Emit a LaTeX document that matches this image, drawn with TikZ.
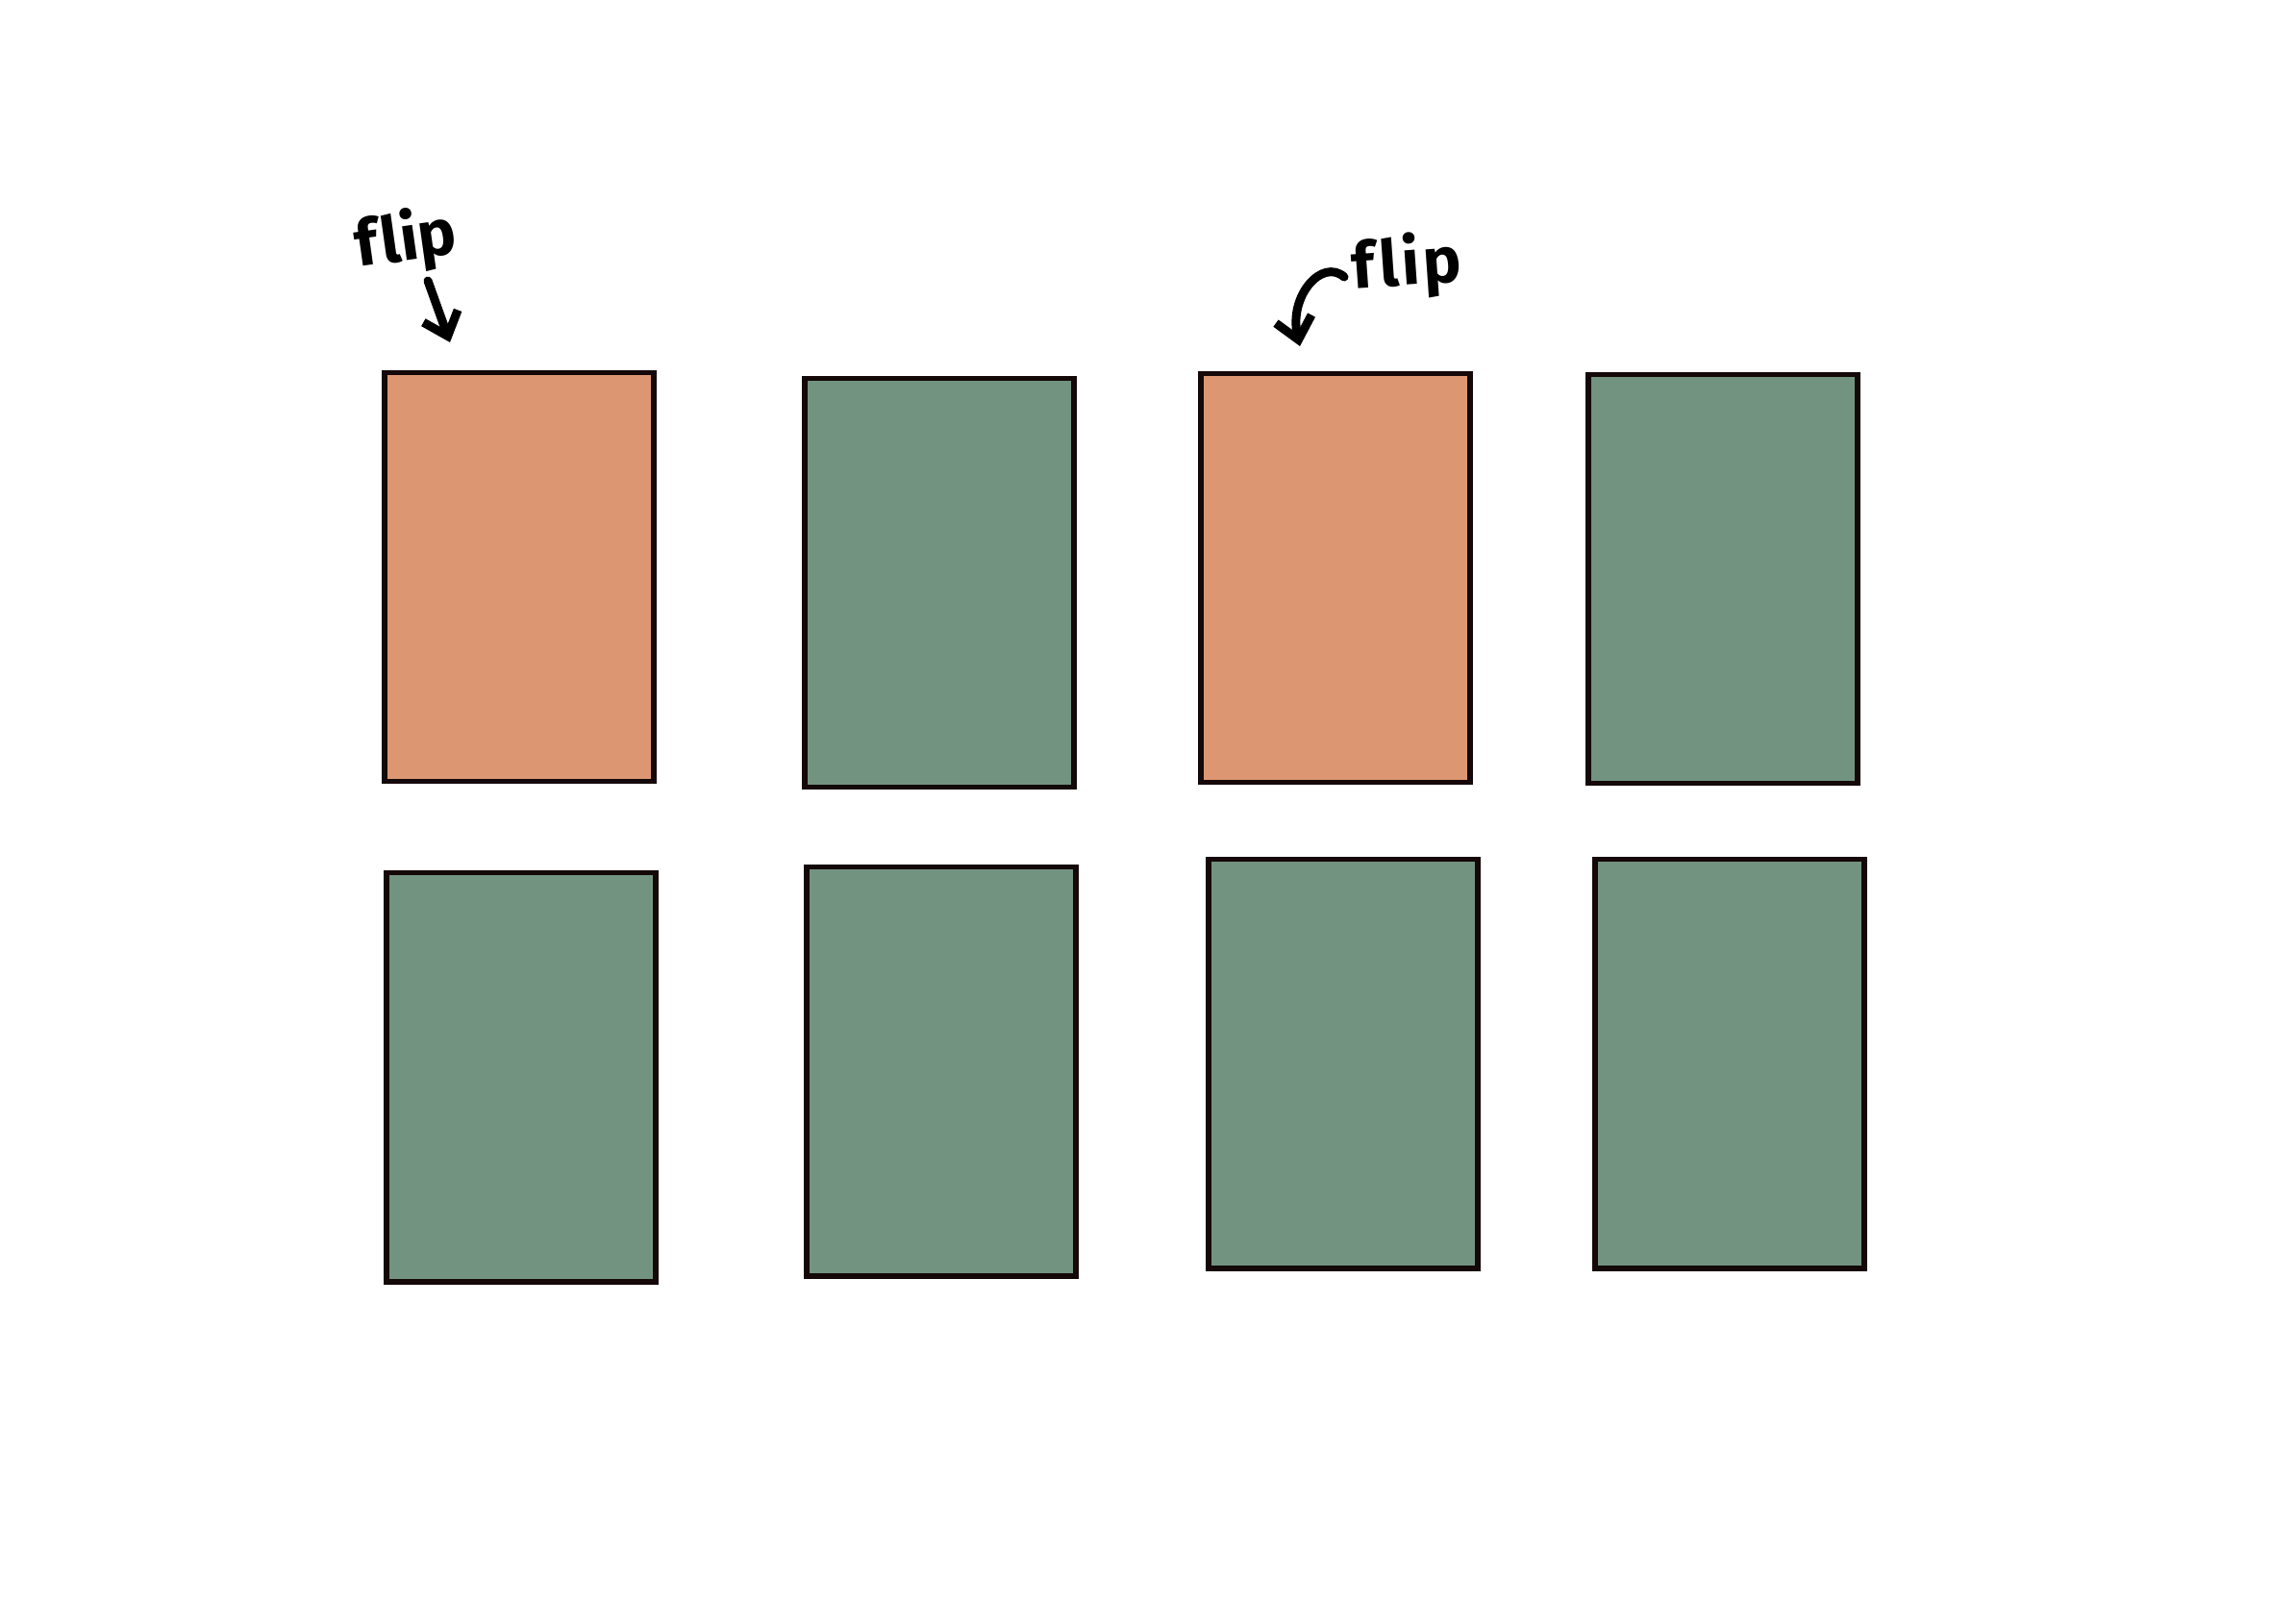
\documentclass[tikz,border=0pt]{standalone}
\usepackage{fontspec}
\newfontfamily\handfont[Ligatures=CommonOff]{Fira Sans}
\usetikzlibrary{arrows.meta}
\definecolor{cardorange}{RGB}{220,151,114}
\definecolor{cardgreen}{RGB}{114,147,128}
\definecolor{inkdark}{RGB}{20,8,8}
\tikzset{
  card/.style={draw=inkdark, line width=0.055cm, rectangle, inner sep=0pt,
    minimum width=2.80cm, minimum height=4.25cm, anchor=north west},
  flipcard/.style={card, fill=cardorange},
  keepcard/.style={card, fill=cardgreen},
  fliplabel/.style={font=\handfont\bfseries\fontsize{19}{19}\selectfont, inner sep=0pt, text=black},
  fliparrow/.style={line width=0.09cm, line cap=round, line join=round,
    -{Straight Barb[length=0.22cm, width=0.38cm, line width=0.09cm]}}
}
\begin{document}
\begin{tikzpicture}
\useasboundingbox[fill=white] (0,0) rectangle (23.88,16.68);
% row 1
\node[flipcard] (c11) at (3.97,12.83) {};
\node[keepcard] (c12) at (8.34,12.77) {};
\node[flipcard] (c13) at (12.46,12.82) {};
\node[keepcard] (c14) at (16.49,12.81) {};
% row 2
\node[keepcard] (c21) at (3.99,7.63) {};
\node[keepcard] (c22) at (8.36,7.69) {};
\node[keepcard] (c23) at (12.54,7.77) {};
\node[keepcard] (c24) at (16.56,7.77) {};
% labels
\node[fliplabel, rotate=8] (f1) at (4.22,14.17) {f\kern0.06em lip};
\node[fliplabel, rotate=4] (f2) at (14.63,13.91) {f\kern0.08em l\kern0.05em i\kern0.05em p};
% arrows
\coordinate (a1s) at (4.45,13.76);
\coordinate (a1e) at (4.68,13.12);
\draw[fliparrow] (a1s) -- (a1e);
\coordinate (a2s) at (13.98,13.80);
\coordinate (a2e) at (13.52,13.08);
\draw[fliparrow] (a2s) .. controls (13.75,14.00) and (13.40,13.60) .. (a2e);
\end{tikzpicture}
\end{document}
